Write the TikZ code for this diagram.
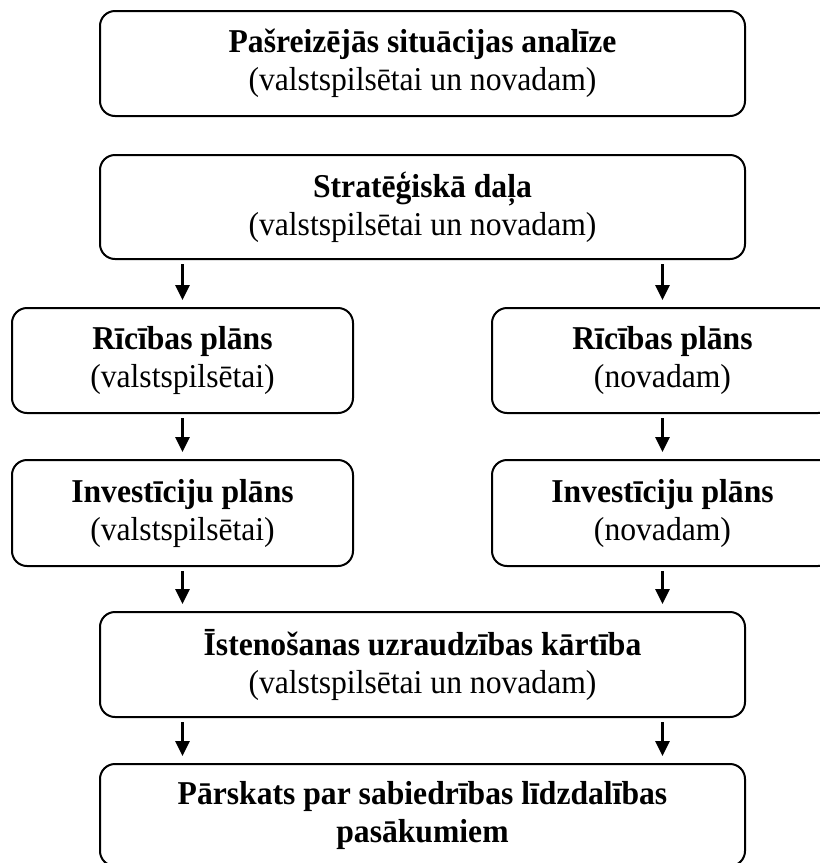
\documentclass[tikz,border=0pt]{standalone}
\usepackage{fontspec}
\setmainfont[FakeStretch=0.95]{Liberation Serif}
\usetikzlibrary{arrows.meta}

\begin{document}
\begin{tikzpicture}[x=1pt,y=-1pt,
    box/.style={draw,line width=2pt,rounded corners=15pt,align=center,
      inner sep=0pt,minimum height=105pt,font=\fontsize{33.3}{38}\selectfont},
    wide/.style={box,minimum width=645pt},
    half/.style={box,minimum width=341pt},
    arr/.style={-{Triangle[width=14pt,length=15pt]},line width=2.8pt,
      shorten <=4pt,shorten >=7pt}]
  \useasboundingbox (0,0) rectangle (820,863);
  \clip (0,0) rectangle (820,863);
  % whole plan
  \node[wide] (anal) at (422.5,63.5) {\textbf{Pašreizējās situācijas analīze}\\(valstspilsētai un novadam)};
  \node[wide,minimum height=104pt] (strat) at (422.5,207) {\textbf{Stratēģiskā daļa}\\(valstspilsētai un novadam)};
  % two columns
  \node[half] (ricl) at (182.5,360.5) {\textbf{Rīcības plāns}\\(valstspilsētai)};
  \node[half] (ricr) at (662.5,360.5) {\textbf{Rīcības plāns}\\(novadam)};
  \node[half,minimum height=106pt] (invl) at (182.5,513) {\textbf{Investīciju plāns}\\(valstspilsētai)};
  \node[half,minimum height=106pt] (invr) at (662.5,513) {\textbf{Investīciju plāns}\\(novadam)};
  % joined again
  \node[wide] (ist) at (422.5,664.5) {\textbf{Īstenošanas uzraudzības kārtība}\\(valstspilsētai un novadam)};
  \node[wide,minimum height=102pt] (pars) at (422.5,815) {\textbf{Pārskats par sabiedrības līdzdalības}\\\textbf{pasākumiem}};

  \draw[arr] (strat.south -| ricl) -- (ricl.north);
  \draw[arr] (strat.south -| ricr) -- (ricr.north);
  \draw[arr] (ricl) -- (invl);
  \draw[arr] (ricr) -- (invr);
  \draw[arr] (invl) -- (ist.north -| invl);
  \draw[arr] (invr) -- (ist.north -| invr);
  \draw[arr] (ist.south -| invl) -- (pars.north -| invl);
  \draw[arr] (ist.south -| invr) -- (pars.north -| invr);
\end{tikzpicture}
\end{document}
